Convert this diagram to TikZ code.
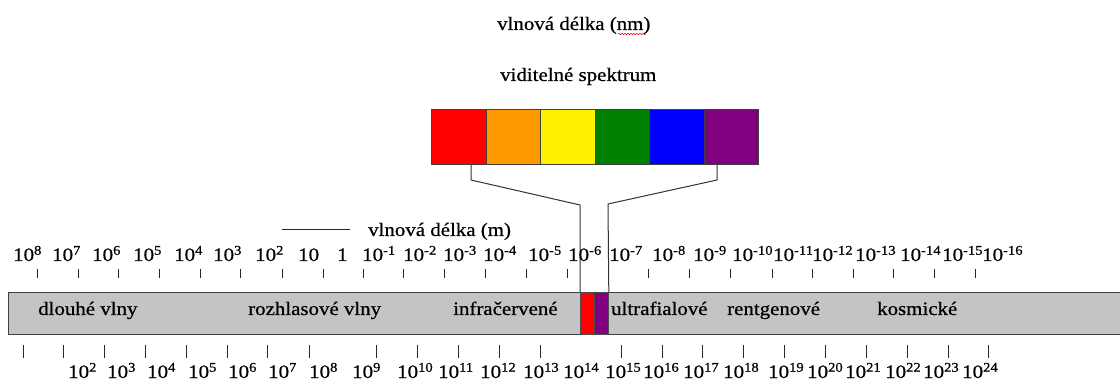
\documentclass[tikz,border=0pt]{standalone}
\usepackage{fontspec}
\setmainfont{Liberation Serif}[FakeBold=0.6]
\usetikzlibrary{decorations.pathmorphing}
\newcommand{\wdx}[1]{\scalebox{1.1}[1]{#1}}
\definecolor{barfill}{HTML}{C4C4C4}
\definecolor{sorange}{HTML}{FF9900}
\definecolor{sgreen}{HTML}{008000}
\definecolor{spurple}{HTML}{800080}
\begin{document}
\begin{tikzpicture}[x=1pt,y=-1pt,
  font=\fontsize{19}{22}\selectfont,
  lbl/.style={anchor=base west, inner sep=0pt},
  cbox/.style={anchor=north west, draw=black!75, line width=0.8pt, minimum width=54.5pt, minimum height=55pt, inner sep=0pt},
  barbox/.style={anchor=north west, draw=black!75, line width=1.2pt, fill=barfill, minimum width=1120pt, minimum height=42pt, inner sep=0pt},
  seg/.style={anchor=north west, draw=black!70, line width=0.8pt, minimum width=14pt, minimum height=42pt, inner sep=0pt},
  tick/.style={line width=1pt, black!85},
  conn/.style={line width=1pt, black!80}]
\useasboundingbox (0,0) rectangle (1120,390);

% titles
\node[lbl] (title) at (497,30) {\wdx{vlnová délka (nm)}};
\draw[red, line width=0.5pt, decorate, decoration={snake, amplitude=0.8pt, segment length=3pt}] (618,34) -- (646,34);
\node[lbl] (vis) at (500,81) {\wdx{viditelné spektrum}};

% visible spectrum boxes
\node[cbox, fill=red]     (c1) at (431,109) {};
\node[cbox, fill=sorange] (c2) at (485.5,109) {};
\node[cbox, fill=yellow]  (c3) at (540,109) {};
\node[cbox, fill=sgreen]  (c4) at (594.5,109) {};
\node[cbox, fill=blue]    (c5) at (649,109) {};
\node[cbox, fill=spurple] (c6) at (703.5,109) {};

% main bar
\node[barbox] (bar) at (8,292) {};
\node[seg, fill=red] (sr) at (580,292) {};
\node[seg, fill=spurple] (sp) at (594,292) {};

% connectors
\coordinate (l1) at (471,180);
\coordinate (l2) at (580,205);
\coordinate (r1) at (717,180);
\coordinate (r2) at (608,204);
\draw[conn] (c1.south -| l1) -- (l1) -- (l2) -- (sr.north west);
\draw[conn] (c6.south -| r1) -- (r1) -- (r2) -- (sp.north east);

% wavelength label
\coordinate (wl) at (282,229);
\node[lbl] (wlt) at (368,236) {\wdx{vlnová délka (m)}};
\draw[line width=0.9pt, black!85] (wl) -- (wl -| 350,0);

% bar labels
\node[lbl] (b1) at (38,315)  {\wdx{dlouhé vlny}};
\node[lbl] (b2) at (248,315) {\wdx{rozhlasové vlny}};
\node[lbl] (b3) at (453,315) {\wdx{infračervené}};
\node[lbl] (b4) at (611,315) {\wdx{ultrafialové}};
\node[lbl] (b5) at (727,315) {\wdx{rentgenové}};
\node[lbl] (b6) at (877,315) {\wdx{kosmické}};

% top labels (wavelength in m)
\foreach \x/\t [count=\i] in {13/10\textsuperscript{8},52/10\textsuperscript{7},92/10\textsuperscript{6},133/10\textsuperscript{5},174/10\textsuperscript{4},213/10\textsuperscript{3},255/10\textsuperscript{2},298/10,337/1,362/10\textsuperscript{-1},403/10\textsuperscript{-2},443/10\textsuperscript{-3},483/10\textsuperscript{-4},528/10\textsuperscript{-5},568/10\textsuperscript{-6},609/10\textsuperscript{-7},652/10\textsuperscript{-8},693/10\textsuperscript{-9},732/10\textsuperscript{-10},773/10\textsuperscript{-11},812/10\textsuperscript{-12},855/10\textsuperscript{-13},900/10\textsuperscript{-14},942/10\textsuperscript{-15},982/10\textsuperscript{-16}}
  \node[lbl] (tl\i) at (\x,261) {\wdx{\t}};

% top ticks
\foreach \x [count=\i] in {37,78,118,159,200,240,282,323,363,403,444,485,526,567,648,689,730,772,812,853,893,934,975}
  \draw[tick] (\x,269) coordinate (tt\i) -- (\x,278);

% bottom ticks
\foreach \x [count=\i] in {23,63,104,145,186,227,267,309,376,417,458,499,540,621,662,702,743,784,825,866,907,948,988}
  \draw[tick] (\x,345) coordinate (bt\i) -- (\x,358);

% bottom labels (frequency)
\foreach \x/\e [count=\i] in {68/2,107/3,147/4,188/5,228/6,268/7,309/8,352/9,397/10,438/11,480/12,523/13,563/14,605/15,643/16,683/17,723/18,768/19,807/20,845/21,885/22,923/23,962/24}
  \node[lbl] (bl\i) at (\x,378) {\wdx{10\textsuperscript{\e}}};
\end{tikzpicture}
\end{document}
